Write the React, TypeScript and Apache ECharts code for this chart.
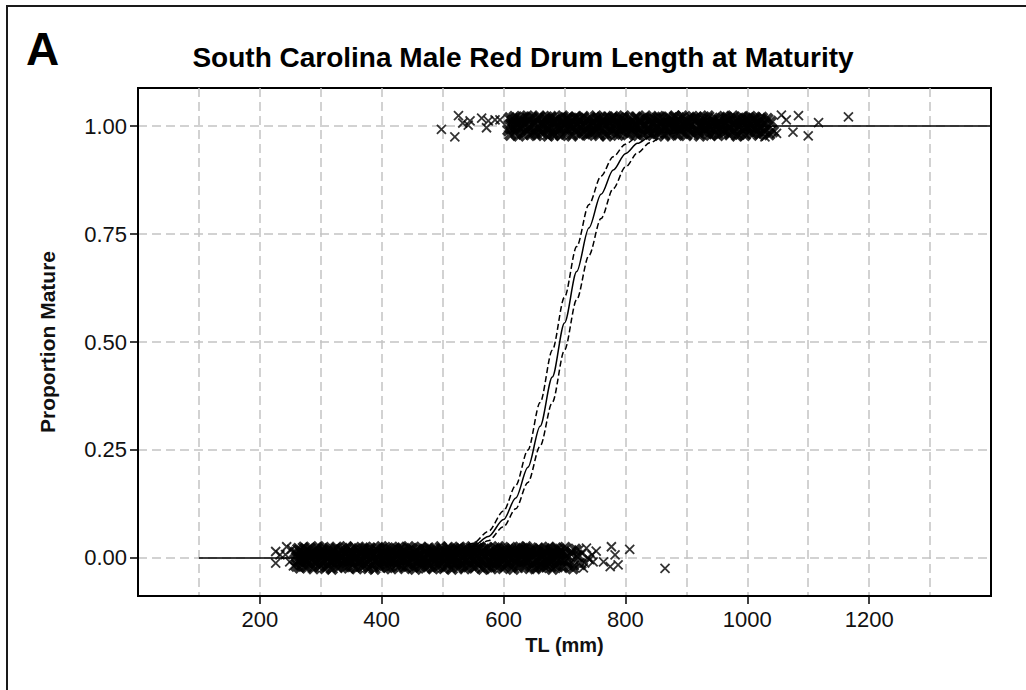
import React, { useEffect, useRef } from "react";
import * as echarts from "echarts";

// ---------- axis ticks ----------
const xTickValues = [200, 400, 600, 800, 1000, 1200];
const yTickValues = [0, 0.25, 0.5, 0.75, 1];

// ---------- fitted logistic curve ----------
const curveTL = [100, 200, 300, 400, 450, 500, 525, 550, 575, 600, 620, 640, 660, 680, 700, 720, 740, 760, 780, 800, 820, 840, 860, 880, 900, 1000, 1100, 1200, 1300, 1400];
const fitP = [0, 0, 0.0001, 0.0007, 0.0023, 0.0079, 0.0148, 0.0272, 0.0497, 0.0892, 0.139, 0.21, 0.305, 0.419, 0.544, 0.663, 0.764, 0.842, 0.898, 0.936, 0.96, 0.975, 0.985, 0.991, 0.994, 0.9995, 1, 1, 1, 1];

// ---------- 95% confidence band ----------
const ciTL = [500, 525, 550, 575, 600, 620, 640, 660, 680, 700, 720, 740, 760, 780, 800, 820, 840, 860, 880, 900];
const upperP = [0.01, 0.0184, 0.034, 0.0615, 0.109, 0.168, 0.25, 0.36, 0.481, 0.604, 0.721, 0.818, 0.884, 0.929, 0.958, 0.975, 0.986, 0.991, 0.995, 0.997];
const lowerP = [0.0064, 0.0118, 0.0219, 0.04, 0.0724, 0.114, 0.175, 0.259, 0.36, 0.481, 0.598, 0.7, 0.786, 0.855, 0.905, 0.938, 0.961, 0.975, 0.984, 0.99];

// ---------- immature fish (plotted at 0, jittered) ----------
const immStartTL = [226, 226, 233, 242, 244, 249, 252, 255];
const immStartY = [0.015, -0.012, 0.007, 0.008, 0.026, -0.009, 0.02, -0.018];
const immTL = [
  258, 260, 261, 263, 264, 266, 267, 268, 270, 272, 273, 274, 276, 277, 279, 281, 282, 283, 285, 286,
  288, 289, 291, 292, 294, 295, 296, 298, 300, 301, 302, 304, 305, 307, 308, 310, 311, 312, 314, 316,
  317, 318, 320, 321, 323, 324, 326, 327, 328, 330, 332, 333, 334, 336, 337, 339, 340, 342, 343, 344,
  346, 348, 349, 350, 352, 353, 355, 356, 358, 359, 360, 362, 364, 365, 366, 368, 369, 371, 372, 374,
  375, 376, 378, 380, 381, 382, 384, 385, 387, 388, 390, 391, 392, 394, 396, 397, 398, 400, 401, 403,
  404, 406, 407, 408, 410, 412, 413, 414, 416, 417, 419, 420, 422, 423, 424, 426, 428, 429, 430, 432,
  433, 435, 436, 438, 439, 440, 442, 444, 445, 446, 448, 449, 451, 452, 454, 455, 456, 458, 460, 461,
  462, 464, 465, 467, 468, 470, 471, 472, 474, 476, 477, 478, 480, 481, 483, 484, 486, 487, 488, 490,
  492, 493, 494, 496, 497, 499, 500, 502, 503, 504, 506, 508, 509, 510, 512, 513, 515, 516, 518, 519,
  520, 522, 524, 525, 526, 528, 529, 531, 532, 534, 535, 536, 538, 540, 541, 542, 544, 545, 547, 548,
  550, 551, 552, 554, 556, 557, 558, 560, 561, 563, 564, 566, 567, 568, 570, 572, 573, 574, 576, 577,
  579, 580, 582, 583, 584, 586, 588, 589, 590, 592, 593, 595, 596, 598, 599, 600, 602, 604, 605, 606,
  608, 609, 611, 612, 614, 615, 616, 618, 620, 621, 622, 624, 625, 627, 628, 630, 631, 632, 634, 636,
  637, 638, 640, 641, 643, 644, 646, 647, 648, 650, 652, 653, 654, 656, 657, 659, 660, 662, 663, 664,
  666, 668, 669, 670, 672, 673, 675, 676, 678, 679, 680, 682, 684, 685, 686, 688, 689, 691, 692, 694,
  695, 697, 699, 701, 703, 705, 708, 711, 714, 718, 722, 726,
];
const immY = [
  0.012, -0.018, 0.003, 0.021, -0.007, -0.022, 0.015, 0.001, -0.013, 0.024, -0.003, 0.009, -0.02, 0.017, -0.01, 0.005, 0.022, -0.016, -0.001, 0.013,
  -0.024, 0.007, 0.019, -0.011, -0.005, 0.011, 0.025, -0.019, 0.002, -0.014, 0.016, -0.008, 0.023, -0.023, 0.006, 0.014, -0.002, -0.017, 0.02, -0.009,
  0.01, -0.025, 0.004, 0.018, -0.012, 0.0, 0.024, -0.006, -0.021, 0.008, 0.016, -0.015, 0.002, 0.021, -0.004, -0.019, 0.013, -0.01, 0.025, -0.001,
  -0.022, 0.006, 0.017, -0.008, 0.011, -0.018, 0.023, -0.003, 0.001, -0.024, 0.014, 0.02, -0.012, -0.006, 0.009, -0.02, 0.019, 0.003, -0.015, 0.024,
  0.005, -0.011, -0.023, 0.015, 0.022, -0.002, 0.008, -0.017, 0.012, -0.025, 0.018, 0.0, -0.009, 0.021, -0.014, 0.007, -0.02, 0.025, -0.005, 0.01,
  -0.016, 0.023, -0.001, 0.013, -0.021, 0.004, 0.019, -0.01, -0.024, 0.016, 0.002, -0.007, 0.022, -0.013, 0.009, -0.019, 0.011, 0.024, -0.004, -0.018,
  0.02, -0.006, 0.014, -0.023, 0.001, 0.017, -0.012, 0.025, -0.016, 0.006, -0.002, 0.021, -0.02, 0.01, 0.003, -0.025, 0.015, -0.008, 0.018, -0.011,
  0.008, -0.019, 0.024, -0.004, -0.014, 0.019, 0.002, -0.022, 0.012, -0.009, 0.022, -0.017, 0.005, 0.016, -0.001, -0.024, 0.011, 0.02, -0.012, 0.0,
  -0.02, 0.013, 0.004, -0.015, 0.025, -0.007, 0.018, -0.023, 0.009, -0.003, 0.014, -0.018, 0.023, -0.01, 0.001, 0.017, -0.025, 0.006, -0.013, 0.021,
  0.002, -0.012, 0.019, -0.021, 0.01, 0.024, -0.005, -0.016, 0.015, -0.001, 0.007, -0.024, 0.022, -0.008, 0.012, -0.019, 0.004, 0.018, -0.014, 0.025,
  -0.003, 0.016, -0.022, 0.008, -0.01, 0.021, 0.001, -0.017, 0.024, -0.006, 0.013, -0.025, 0.005, 0.019, -0.013, -0.002, 0.023, -0.02, 0.011, -0.008,
  0.017, -0.024, 0.006, 0.0, -0.015, 0.022, -0.009, 0.012, -0.019, 0.025, 0.003, -0.012, 0.018, -0.004, -0.023, 0.009, 0.02, -0.016, 0.002, 0.014,
  -0.011, 0.004, 0.023, -0.018, 0.015, -0.001, -0.025, 0.01, 0.019, -0.007, 0.001, -0.021, 0.016, 0.024, -0.014, 0.007, -0.004, 0.021, -0.019, 0.011,
  0.025, -0.009, -0.002, 0.018, -0.023, 0.012, 0.005, -0.015, 0.02, -0.011, -0.024, 0.009, 0.014, -0.005, 0.022, -0.018, 0.0, 0.016, -0.021, 0.006,
  -0.014, 0.02, 0.011, -0.02, 0.003, -0.008, 0.024, -0.012, 0.007, 0.017, -0.025, 0.001, 0.013, -0.016, 0.022, -0.003, -0.019, 0.01, 0.019, -0.006,
  0.015, -0.021, 0.008, 0.023, -0.01, 0.002, -0.018, 0.012, -0.024, 0.019, 0.005, -0.014,
];
const immTailTL = [712, 716, 720, 724, 729, 731, 733, 736, 738, 741, 745, 747, 752, 764, 775, 777, 783, 788, 807, 865];
const immTailY = [0.015, -0.017, 0.004, 0.019, 0.01, -0.023, -0.012, 0.023, 0.001, -0.004, 0.007, -0.009, 0.016, -0.009, -0.02, 0.026, 0.007, -0.016, 0.02, -0.024];

// ---------- mature fish (plotted at 1, jittered) ----------
const matLeftTL = [498, 520, 526, 533, 542, 545, 564, 572, 575, 586, 594];
const matLeftY = [0.992, 0.975, 1.024, 1.007, 1.002, 1.012, 1.018, 0.996, 1.012, 1.014, 1.014];
const matTL = [
  608, 610, 611, 613, 615, 616, 618, 620, 621, 623, 625, 627, 628, 630, 632, 633, 635, 637, 639, 640,
  642, 644, 645, 647, 649, 651, 652, 654, 656, 657, 659, 661, 663, 664, 666, 668, 670, 671, 673, 675,
  676, 678, 680, 682, 683, 685, 687, 688, 690, 692, 694, 695, 697, 699, 700, 702, 704, 706, 707, 709,
  711, 712, 714, 716, 718, 719, 721, 723, 724, 726, 728, 730, 731, 733, 735, 737, 738, 740, 742, 743,
  745, 747, 749, 750, 752, 754, 755, 757, 759, 761, 762, 764, 766, 767, 769, 771, 773, 774, 776, 778,
  780, 781, 783, 785, 786, 788, 790, 792, 793, 795, 797, 798, 800, 802, 804, 805, 807, 809, 811, 812,
  814, 816, 817, 819, 821, 823, 824, 826, 828, 829, 831, 833, 835, 836, 838, 840, 842, 843, 845, 847,
  848, 850, 852, 854, 855, 857, 859, 860, 862, 864, 866, 867, 869, 871, 872, 874, 876, 878, 879, 881,
  883, 885, 886, 888, 890, 891, 893, 895, 897, 898, 900, 902, 903, 905, 907, 909, 910, 912, 914, 916,
  917, 919, 921, 922, 924, 926, 928, 929, 931, 933, 934, 936, 938, 940, 941, 943, 945, 947, 948, 950,
  952, 953, 955, 957, 959, 960, 962, 964, 965, 967, 969, 971, 972, 974, 976, 978, 979, 981, 983, 984,
  986, 988, 990, 991, 993, 995, 996, 998, 1000, 1002, 1003, 1005, 1007, 1009, 1010, 1012, 1014, 1015, 1017, 1019,
  1021, 1022, 1024, 1026, 1028, 1030, 1033, 1036, 1039, 1042,
];
const matY = [
  0.99, 1.018, 0.98, 1.004, 1.013, 0.994, 1.021, 0.985, 1.0, 1.009, 0.978, 1.016, 0.997, 1.011, 0.982, 1.02, 1.006, 0.988, 1.022, 0.992,
  1.014, 0.999, 0.981, 1.019, 1.003, 0.986, 1.01, 0.979, 1.017, 0.995, 1.022, 0.989, 1.007, 0.983, 1.001, 1.015, 0.991, 1.02, 0.978, 1.012,
  0.996, 1.021, 0.984, 1.008, 0.98, 1.013, 1.002, 0.987, 1.018, 0.993, 0.979, 1.011, 1.022, 0.998, 1.005, 0.982, 1.016, 0.99, 1.019, 1.0,
  1.009, 0.978, 1.015, 0.994, 1.02, 0.988, 1.003, 1.017, 0.981, 1.012, 0.999, 0.985, 1.021, 1.006, 0.991, 1.014, 0.98, 1.002, 1.018, 0.986,
  0.983, 1.01, 1.001, 0.989, 1.022, 0.996, 1.016, 0.979, 1.007, 1.019, 0.992, 1.012, 0.984, 1.004, 0.978, 1.02, 0.997, 1.009, 0.987, 1.017,
  1.021, 0.993, 0.982, 1.012, 1.005, 0.98, 1.018, 0.99, 1.0, 1.015, 0.986, 1.022, 0.995, 1.008, 0.981, 1.003, 1.019, 0.988, 1.011, 0.998,
  1.006, 0.985, 1.02, 0.997, 0.979, 1.013, 1.009, 0.992, 1.017, 0.982, 1.002, 1.022, 0.989, 1.014, 0.994, 0.984, 1.01, 1.018, 0.98, 1.004,
  0.988, 1.016, 0.998, 1.021, 0.983, 1.007, 0.991, 1.019, 1.001, 0.978, 1.012, 0.996, 1.02, 0.986, 1.005, 1.015, 0.981, 1.008, 0.993, 1.022,
  1.003, 0.98, 1.011, 1.018, 0.99, 0.999, 1.022, 0.984, 1.006, 1.013, 0.979, 1.009, 0.994, 1.017, 0.987, 1.0, 1.021, 0.982, 1.014, 0.992,
  1.019, 0.987, 1.005, 0.978, 1.015, 1.001, 0.989, 1.02, 0.995, 1.01, 0.983, 1.022, 0.998, 0.98, 1.012, 1.007, 0.985, 1.016, 0.991, 1.003,
  0.979, 1.008, 1.017, 0.993, 1.002, 0.984, 1.021, 0.988, 1.011, 1.019, 0.997, 0.981, 1.014, 0.99, 1.022, 1.004, 0.986, 1.009, 0.978, 1.016,
  1.0, 0.982, 1.013, 1.02, 0.992, 1.006, 0.979, 1.017, 0.996, 1.011, 0.987, 1.021, 1.002, 0.983, 1.015, 0.994, 1.018, 0.989, 1.008, 0.98,
  1.012, 0.997, 1.019, 0.985, 1.005, 0.991, 1.016, 0.981, 1.01, 0.988,
];
const matRightTL = [1029, 1048, 1056, 1064, 1075, 1084, 1100, 1117, 1166];
const matRightY = [0.975, 0.983, 1.025, 1.014, 0.986, 1.024, 0.977, 1.008, 1.021];

const titleText = "South Carolina Male Red Drum Length at Maturity";
const panelLabel = "A";
const xName = "TL (mm)";
const yName = "Proportion Mature";

const pairs = (xs: number[], ys: number[]) => xs.map((x, i) => [x, ys[i]]);

export default function App() {
  const ref = useRef<HTMLDivElement>(null);
  useEffect(() => {
    document.body.style.margin = "0";
    if (!ref.current) return;
    const chart = echarts.init(ref.current, null, { renderer: "svg" });
    const font = "'Liberation Sans', Arial, sans-serif";
    const cross = "path://M0,0L8,8M8,0L0,8";
    const sparseStyle = { color: "#000", borderColor: "#000", borderWidth: 1.8 };
    const denseStyle = { color: "#000", borderColor: "#000", borderWidth: 4.2 };
    const gridLine = { color: "#c4c4c4", width: 1.5, type: [9, 5] };

    chart.setOption({
      animation: false,
      grid: {
        left: 138,
        top: 88,
        width: 853,
        height: 508,
        show: true,
        borderColor: "#000",
        borderWidth: 2,
        backgroundColor: "#fff",
      },
      graphic: [
        {
          type: "polyline",
          shape: { points: [[7, 690], [7, 6], [1026, 6]] },
          style: { stroke: "#1a1a1a", lineWidth: 2, fill: "none" },
          silent: true,
        },
        {
          type: "text",
          x: 26,
          y: 49,
          style: {
            text: panelLabel,
            font: `bold 46px ${font}`,
            fill: "#000",
            textAlign: "left",
            textVerticalAlign: "middle",
          },
        },
        {
          type: "text",
          x: 523,
          y: 57,
          style: {
            text: titleText,
            font: `bold 28px ${font}`,
            fill: "#000",
            textAlign: "center",
            textVerticalAlign: "middle",
          },
        },
      ],
      xAxis: [
        {
          type: "value",
          min: 0,
          max: 1400,
          name: xName,
          nameLocation: "middle",
          nameGap: 30,
          nameTextStyle: { fontFamily: font, fontWeight: "bold", fontSize: 20, color: "#111" },
          axisLine: { show: true, onZero: false, lineStyle: { color: "#000", width: 2 } },
          axisTick: { show: true, length: 8, lineStyle: { color: "#000", width: 1.5 }, customValues: xTickValues },
          axisLabel: {
            customValues: xTickValues,
            fontFamily: font,
            fontSize: 22,
            color: "#111",
            margin: 12,
            formatter: (v: number) => String(v),
          },
          splitLine: { show: false },
        },
        {
          type: "value",
          min: 0,
          max: 1400,
          interval: 100,
          position: "top",
          axisLine: { show: false, onZero: false },
          axisTick: { show: false },
          axisLabel: { show: false },
          splitLine: { show: true, showMinLine: false, showMaxLine: false, lineStyle: gridLine },
        },
      ],
      yAxis: {
        type: "value",
        min: -0.088,
        max: 1.088,
        name: yName,
        nameLocation: "middle",
        nameGap: 80,
        nameTextStyle: { fontFamily: font, fontWeight: "bold", fontSize: 21, color: "#111" },
        axisLine: { show: true, onZero: false, lineStyle: { color: "#000", width: 2 } },
        axisTick: { show: true, length: 8, lineStyle: { color: "#000", width: 1.5 }, customValues: yTickValues },
        axisLabel: {
          customValues: yTickValues,
          fontFamily: font,
          fontSize: 22,
          color: "#111",
          margin: 11,
          formatter: (v: number) => v.toFixed(2),
        },
        splitLine: { show: true, lineStyle: gridLine },
      },
      series: [
        {
          type: "line",
          name: "fit",
          data: pairs(curveTL, fitP),
          showSymbol: false,
          smooth: 0.3,
          smoothMonotone: "x",
          lineStyle: { color: "#000", width: 1.5 },
          z: 3,
        },
        {
          type: "line",
          name: "upper",
          data: pairs(ciTL, upperP),
          showSymbol: false,
          smooth: 0.3,
          smoothMonotone: "x",
          lineStyle: { color: "#000", width: 1.5, type: [6, 3] },
          z: 3,
        },
        {
          type: "line",
          name: "lower",
          data: pairs(ciTL, lowerP),
          showSymbol: false,
          smooth: 0.3,
          smoothMonotone: "x",
          lineStyle: { color: "#000", width: 1.5, type: [6, 3] },
          z: 3,
        },
        {
          type: "scatter",
          name: "immature",
          data: pairs(immTL, immY),
          symbol: cross,
          symbolSize: 10,
          itemStyle: denseStyle,
          z: 4,
        },
        {
          type: "scatter",
          name: "mature",
          data: pairs(matTL, matY),
          symbol: cross,
          symbolSize: 10,
          itemStyle: denseStyle,
          z: 4,
        },
        {
          type: "scatter",
          name: "sparse",
          data: [
            ...pairs(immStartTL, immStartY),
            ...pairs(immTailTL, immTailY),
            ...pairs(matLeftTL, matLeftY),
            ...pairs(matRightTL, matRightY),
          ],
          symbol: cross,
          symbolSize: 9,
          itemStyle: sparseStyle,
          z: 4,
        },
      ],
    });
    return () => chart.dispose();
  }, []);
  return <div ref={ref} style={{ width: 1026, height: 690, background: "#fff" }} />;
}
